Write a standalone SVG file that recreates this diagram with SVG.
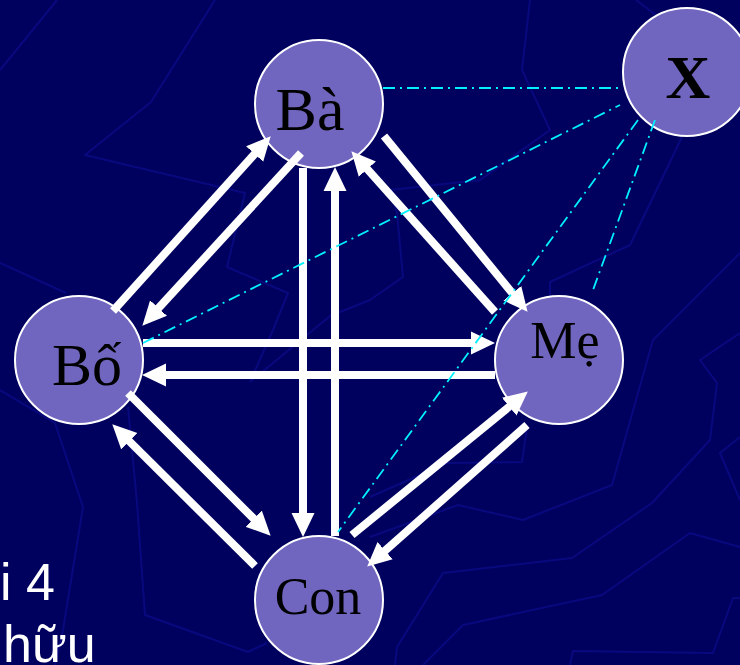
<svg xmlns="http://www.w3.org/2000/svg" width="740" height="665" viewBox="0 0 740 665">
<style>
.bg{fill:none;stroke:#09097f;stroke-width:2;stroke-linejoin:round}
.arr{stroke:#fff;stroke-width:8;fill:none;marker-end:url(#ah)}
.dd{stroke:#00f0ff;stroke-width:1.8;fill:none;stroke-dasharray:12 5 2 5}
.node{fill:#7066c0;stroke:#fff;stroke-width:2}
.lbl{font-family:"Liberation Serif","Times New Roman",serif;fill:#000;text-anchor:middle}
.side{font-family:"Liberation Sans",Arial,sans-serif;fill:#fff;font-size:52px}
</style>
<defs>
<marker id="ah" markerUnits="userSpaceOnUse" markerWidth="24" markerHeight="24" viewBox="0 -12 24 24" refX="1" refY="0" orient="auto">
<path d="M0,-11.5 L24,0 L0,11.5 z" fill="#fff"/>
</marker>
</defs>
<rect width="740" height="665" fill="#00005f"/>
<g id="background">
<polyline class="bg" points="0,70 57,0"/>
<polyline class="bg" points="215,0 151,102 85,155 245,193 227,267 288,293 273,330 250,382"/>
<polyline class="bg" points="0,263 66,293"/>
<polyline class="bg" points="0,390 55,423 83,507 63,630 55,665"/>
<polyline class="bg" points="128,407 137,503 145,615 248,652 267,643"/>
<polyline class="bg" points="530,0 522,70 550,130 480,180 390,190 397,213 403,277 370,300 330,316 250,382"/>
<polyline class="bg" points="636,0 656,15"/>
<polyline class="bg" points="682,137 630,245 550,282 550,297"/>
<polyline class="bg" points="740,253 663,330 653,340 612,485 523,520 458,505 370,537"/>
<polyline class="bg" points="740,333 700,360 717,383 710,440 652,503 572,558 443,573 397,647 395,665"/>
<polyline class="bg" points="740,437 720,453 740,500"/>
<polyline class="bg" points="740,547 690,533 602,595 463,625 423,665"/>
<polyline class="bg" points="740,598 733,598 713,653 573,651 570,665"/>
<polyline class="bg" points="527,427 522,462 447,463 370,497"/>
</g>
<g id="side-text">
<text class="side" x="0" y="600">i 4</text>
<text class="side" x="3" y="662">hữu</text>
</g>
<g id="node-ba">
<circle class="node" cx="319" cy="104" r="64"/>
<text class="lbl" x="310" y="130" font-size="62">Bà</text>
</g>
<g id="node-x">
<circle class="node" cx="687" cy="72" r="64"/>
<text class="lbl" x="688" y="98" font-size="62" font-weight="bold">X</text>
</g>
<g id="node-bo">
<circle class="node" cx="79" cy="360" r="64"/>
<text class="lbl" x="87" y="385" font-size="60">Bố</text>
</g>
<g id="node-me">
<circle class="node" cx="559" cy="360" r="64"/>
<text class="lbl" x="565" y="358" font-size="52">Mẹ</text>
</g>
<g id="node-con">
<circle class="node" cx="319" cy="600" r="64"/>
<text class="lbl" x="318" y="614" font-size="52">Con</text>
</g>
<g id="connectors">
<line class="arr" x1="113" y1="311" x2="255.3" y2="153.3"/>
<line class="arr" x1="301" y1="153" x2="157.9" y2="308.8"/>
<line class="arr" x1="303" y1="168" x2="303" y2="514"/>
<line class="arr" x1="335" y1="536" x2="335" y2="190"/>
<line class="arr" x1="384" y1="136" x2="513" y2="294"/>
<line class="arr" x1="495" y1="312" x2="366.7" y2="168.4"/>
<line class="arr" x1="143" y1="343" x2="472" y2="343"/>
<line class="arr" x1="495" y1="375" x2="165" y2="375"/>
<line class="arr" x1="128" y1="393" x2="254.4" y2="519.4"/>
<line class="arr" x1="255" y1="566" x2="128.6" y2="440.5"/>
<line class="arr" x1="352" y1="535" x2="510" y2="406"/>
<line class="arr" x1="527" y1="425" x2="384.4" y2="551.3"/>
<line class="dd" x1="383" y1="88" x2="623" y2="88"/>
<line class="dd" x1="143" y1="343" x2="620" y2="105"/>
<line class="dd" x1="638" y1="120" x2="338" y2="532"/>
<line class="dd" x1="655" y1="120" x2="593" y2="290"/>
</g>
</svg>
